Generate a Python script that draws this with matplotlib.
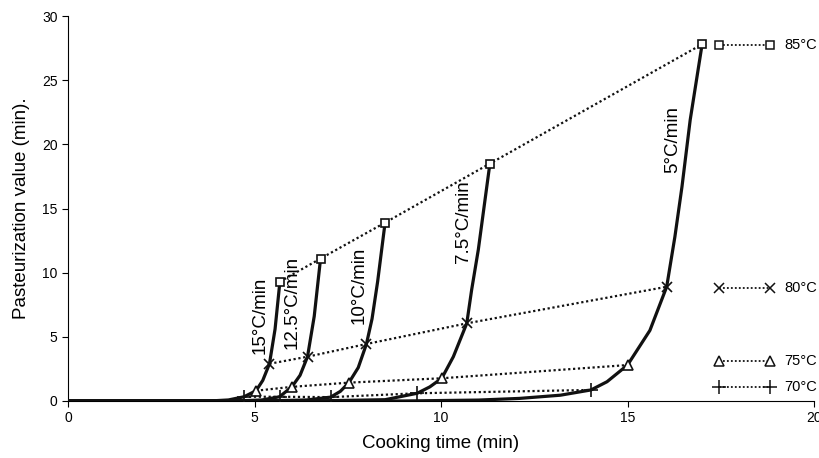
import matplotlib
matplotlib.use("Agg")
from matplotlib import pyplot as plt

plt.rcParams["font.family"] = ["Liberation Sans", "DejaVu Sans"]

# heating-rate curves (time in min, pasteurization value in min)
rates = ["15°C/min", "12.5°C/min", "10°C/min", "7.5°C/min", "5°C/min"]
curve_t = [
    [0, 3.8, 4.3, 4.72, 5.04, 5.22, 5.4, 5.55, 5.68],
    [0, 4.5, 5.2, 5.67, 6.0, 6.22, 6.42, 6.6, 6.77],
    [0, 5.2, 6.4, 7.04, 7.3, 7.53, 7.78, 8.0, 8.15, 8.3, 8.5],
    [0, 6.5, 8.5, 9.36, 9.7, 10.02, 10.33, 10.69, 10.82, 11.0, 11.31],
    [0, 9.0, 11.0, 12.1, 13.2, 14.02, 14.45, 15.0, 15.6, 16.05, 16.27, 16.46, 16.68, 17.0],
]
curve_p = [
    [0, 0, 0.08, 0.33, 0.8, 1.6, 2.9, 5.6, 9.3],
    [0, 0, 0.08, 0.33, 1.1, 2.0, 3.45, 6.6, 11.1],
    [0, 0, 0.08, 0.3, 0.75, 1.43, 2.6, 4.44, 6.4, 9.3, 13.9],
    [0, 0, 0.1, 0.6, 1.1, 1.77, 3.45, 6.05, 8.65, 11.8, 18.5],
    [0, 0, 0.07, 0.2, 0.45, 0.86, 1.5, 2.8, 5.5, 8.9, 12.8, 16.7, 21.9, 27.8],
]
rate_label_pos = [(5.15, 6.7), (6.02, 7.7), (7.8, 9.0), (10.6, 14.0), (16.2, 20.4)]

# end temperature series
temps = ["85°C", "80°C", "75°C", "70°C"]
temp_t = [
    [5.68, 6.77, 8.5, 11.31, 17.0],
    [5.4, 6.42, 8.0, 10.69, 16.05],
    [5.04, 6.0, 7.53, 10.02, 15.0],
    [4.72, 5.67, 7.04, 9.36, 14.02],
]
temp_p = [
    [9.3, 11.1, 13.9, 18.5, 27.8],
    [2.9, 3.45, 4.44, 6.05, 8.9],
    [0.8, 1.1, 1.43, 1.77, 2.8],
    [0.33, 0.33, 0.3, 0.6, 0.86],
]
markers = ["s", "x", "^", "+"]
marker_size = [6, 7, 7, 10]
legend_y = [27.75, 8.8, 3.1, 1.1]

fig = plt.figure(figsize=(8.2, 4.58), dpi=100)
ax = fig.add_axes([0.083, 0.1245, 0.9097, 0.8405])

for t, p in zip(curve_t, curve_p):
    ax.plot(t, p, "-", color="#111111", lw=2.3, solid_capstyle="round",
            solid_joinstyle="round", zorder=3)

for t, p, m, ms in zip(temp_t, temp_p, markers, marker_size):
    ax.plot(t, p, linestyle=(0, (1, 1.2)), color="#111111", lw=1.6,
            marker=m, ms=ms, mfc="white", mec="#111111", mew=1.2, zorder=4)

for lab, (x, y) in zip(rates, rate_label_pos):
    ax.text(x, y, lab, rotation=90, ha="center", va="center", fontsize=13.5)

# series labels on the right
for lab, y, m, ms in zip(temps, legend_y, markers, marker_size):
    ax.plot([17.45, 18.83], [y, y], linestyle=(0, (1, 1.2)), color="#111111", lw=1.3,
            marker=m, ms=ms, mfc="white", mec="#111111", mew=1.1, clip_on=False, zorder=4)
    ax.text(19.2, y, lab, ha="left", va="center", fontsize=10.5, clip_on=False)

ax.set_xlim(0, 20)
ax.set_ylim(0, 30)
ax.set_xticks([0, 5, 10, 15, 20])
ax.set_yticks([0, 5, 10, 15, 20, 25, 30])
ax.tick_params(direction="out", length=4, width=0.8, labelsize=10)
for s in ["top", "right"]:
    ax.spines[s].set_visible(False)
ax.spines["left"].set_linewidth(0.8)
ax.spines["bottom"].set_linewidth(0.8)
ax.set_xlabel("Cooking time (min)", fontsize=13.5, labelpad=7)
ax.set_ylabel("Pasteurization value (min).", fontsize=13.5, labelpad=9)

fig.savefig("out.png", dpi=100)
